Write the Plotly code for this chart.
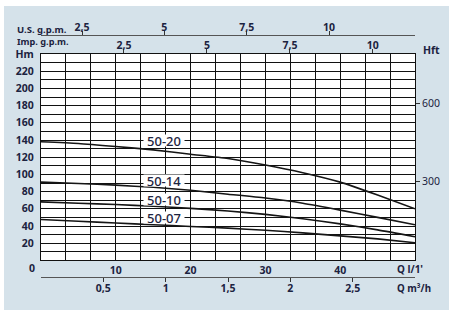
import plotly.graph_objects as go

# ---- data ----
q_lmin = [0, 5, 10, 15, 20, 25, 30, 35, 40, 45, 50]
h_50_20 = [138, 136, 132.5, 128.5, 123.5, 118.5, 111, 102, 91, 76, 60]
h_50_14 = [91, 89.5, 87.5, 85, 81.5, 77, 72.5, 66.5, 58.5, 50, 41.5]
h_50_10 = [68, 66.5, 65, 63, 60.5, 57.5, 53.5, 48.5, 42.5, 35.5, 27.5]
h_50_07 = [47.5, 45.5, 43.5, 41.5, 39.5, 37.5, 35, 32, 28.5, 25, 20.5]
series_names = ["50-20", "50-14", "50-10", "50-07"]
series_values = [h_50_20, h_50_14, h_50_10, h_50_07]
label_q = 16.5
label_h = [139.8, 92.6, 71.0, 50.0]

lmin_ticks = [10, 20, 30, 40]
m3h_ticks = [0.5, 1, 1.5, 2, 2.5]
m3h_text = ["0,5", "1", "1,5", "2", "2,5"]
gpm_ticks = [2.5, 5, 7.5, 10]
gpm_text = ["2,5", "5", "7,5", "10"]
hm_ticks = [20, 40, 60, 80, 100, 120, 140, 160, 180, 200, 220, 240]
hm_text = ["20", "40", "60", "80", "100", "120", "140", "160", "180", "200", "220", "Hm"]
hft_ticks = [300, 600]

# ---- style ----
BLUE = "#d5e2ea"
TXT = "#1c2340"
FONT = "Noto Sans"
W, H = 454, 310
ML, MR, MT, MB = 41, 39, 35, 33
PH = H - MT - MB
PW = W - ML - MR


def px_x(px):
    return (px - ML) / PW


def px_y(py):
    return (H - MB - py) / PH


ydom = [px_y(260.4), px_y(54)]
tickfont = dict(family=FONT, size=10.5, color=TXT, weight="bold")

fig = go.Figure()
for name, vals in zip(series_names, series_values):
    fig.add_trace(go.Scatter(x=q_lmin, y=vals, mode="lines", name=name,
                             line=dict(color="#151515", width=1.6, shape="spline", smoothing=0.6),
                             showlegend=False, hoverinfo="skip"))
# bind the secondary axes
for xa, ya in [("x2", "y"), ("x3", "y"), ("x4", "y"), ("x", "y2")]:
    fig.add_trace(go.Scatter(x=[], y=[], xaxis=xa, yaxis=ya, showlegend=False, hoverinfo="skip"))

for name, hy in zip(series_names, label_h):
    fig.add_annotation(x=label_q, y=hy, xref="x", yref="y", text=name, showarrow=False,
                       bgcolor="white", borderpad=0, height=11, width=40, valign="middle",
                       font=dict(family=FONT, size=13, color=TXT, weight=500))

grid = dict(showgrid=True, gridcolor="#111111", gridwidth=1)
fig.update_layout(
    width=W, height=H, margin=dict(l=ML, r=MR, t=MT, b=MB, pad=0),
    paper_bgcolor="white", plot_bgcolor=BLUE,
    xaxis=dict(range=[0, 50], anchor="y", tickvals=lmin_ticks, ticks="",
               showline=True, linecolor="#111111", linewidth=1.2, mirror=True,
               zeroline=False, tickfont=tickfont, ticklabelstandoff=0,
               minor=dict(dtick=10 / 3, tick0=0, **grid), **grid),
    xaxis2=dict(range=[0, 11.27], overlaying="x", anchor="y", side="top",
                tickvals=gpm_ticks, ticktext=gpm_text, ticks="outside", ticklen=4,
                tickcolor="#333333", showgrid=False, zeroline=False, tickfont=tickfont,
                ticklabelstandoff=-4),
    xaxis3=dict(range=[1.255, 12.61], overlaying="x", anchor="free", position=1, side="top",
                tickvals=gpm_ticks, ticktext=gpm_text, ticks="outside", ticklen=4,
                tickcolor="#333333", showline=True, linecolor="#555555", linewidth=1.2,
                showgrid=False, zeroline=False, tickfont=tickfont, ticklabelstandoff=-4),
    xaxis4=dict(range=[0, 3], overlaying="x", anchor="free", position=0, side="bottom",
                tickvals=m3h_ticks, ticktext=m3h_text, ticks="outside", ticklen=4,
                tickcolor="#333333", showline=True, linecolor="#555555", linewidth=1.2,
                showgrid=False, zeroline=False, tickfont=tickfont, ticklabelstandoff=-3),
    yaxis=dict(domain=ydom, range=[0, 240], tickvals=hm_ticks, ticktext=hm_text, ticks="",
               showline=True, linecolor="#111111", linewidth=1.2, mirror=True,
               zeroline=False, tickfont=tickfont, ticklabelstandoff=4,
               minor=dict(dtick=10, tick0=0, **grid), **grid),
    yaxis2=dict(range=[0, 240 / 0.3048], overlaying="y", anchor="x", side="right",
                tickvals=hft_ticks, ticks="outside", ticklen=4, tickcolor="#333333",
                showgrid=False, zeroline=False, tickfont=dict(family=FONT, size=10.5, color=TXT)),
    shapes=[
        dict(type="rect", xref="paper", yref="paper", layer="below",
             x0=px_x(4), x1=px_x(449), y0=px_y(310), y1=px_y(6),
             fillcolor=BLUE, line=dict(width=0)),
        dict(type="rect", xref="paper", yref="paper", layer="below",
             x0=0, x1=1, y0=ydom[0], y1=ydom[1],
             fillcolor="white", line=dict(width=0)),
    ],
)

labels = [
    ("U.S. g.p.m.", 15, 29, "left", 9.5),
    ("Imp. g.p.m.", 15, 41, "left", 9.2),
    ("Q l/1'", 395, 269, "left", 10),
    ("Q m³/h", 395, 288, "left", 9.8),
    ("0", 32, 268, "center", 10.5),
    ("Hft", 421, 50, "left", 10.5),
]
for txt, x, y, xa, fs in labels:
    fig.add_annotation(x=px_x(x), y=px_y(y), xref="paper", yref="paper", text=txt,
                       showarrow=False, xanchor=xa, yanchor="middle",
                       font=dict(family=FONT, size=fs, color=TXT, weight="bold"))

fig.write_html("out.html")
